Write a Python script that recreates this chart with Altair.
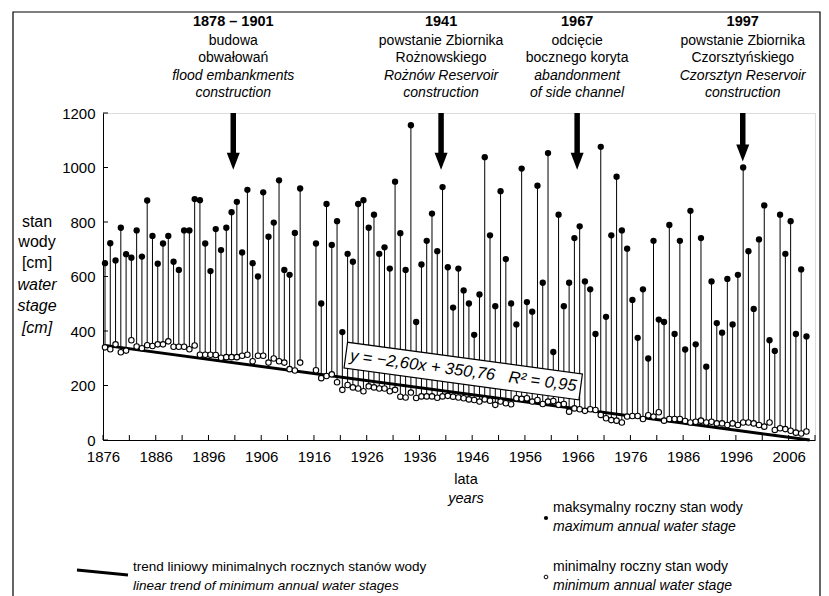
import altair as alt
import pandas as pd

# ---------------- data ----------------
years = list(range(1876, 1914)) + list(range(1916, 2010))

max_stage = [
    649, 722, 659, 779, 682, 669, 769, 673, 879, 749,
    647, 721, 749, 654, 624, 769, 769, 884, 880, 721,
    620, 774, 697, 779, 836, 874, 688, 918, 649, 600,
    909, 746, 798, 953, 624, 606, 760, 923,
    721, 501, 866, 716, 803, 396, 683, 654, 866, 880,
    779, 827, 683, 707, 629, 948, 759, 624, 1155, 433,
    644, 731, 831, 693, 928, 634, 486, 629, 549, 501,
    386, 534, 1038, 751, 491, 913, 664, 501, 424, 996,
    506, 471, 933, 577, 1053, 323, 827, 491, 577, 741,
    784, 582, 553, 389, 1076, 452, 751, 966, 769, 702,
    514, 375, 553, 299, 731, 442, 433, 789, 389, 731,
    332, 841, 351, 741, 269, 582, 429, 394, 591, 424,
    606, 1000, 693, 481, 736, 861, 366, 327, 827, 683,
    803, 389, 626, 380,
]

min_stage = [
    340, 333, 351, 322, 328, 366, 343, 337, 348, 345,
    351, 351, 362, 342, 342, 342, 333, 347, 313, 313,
    313, 312, 302, 304, 304, 304, 309, 313, 289, 309,
    309, 284, 299, 289, 284, 260, 255, 284,
    256, 227, 235, 241, 212, 184, 202, 193, 189, 179,
    197, 193, 189, 189, 179, 184, 159, 156, 174, 154,
    160, 160, 160, 155, 160, 162, 159, 156, 153, 149,
    147, 141, 149, 144, 129, 141, 135, 131, 153, 151,
    153, 141, 147, 132, 141, 143, 129, 132, 104, 116,
    113, 107, 113, 110, 92, 80, 73, 71, 64, 86,
    88, 88, 77, 91, 86, 102, 71, 77, 77, 77,
    70, 64, 67, 71, 64, 67, 61, 61, 55, 61,
    55, 64, 64, 61, 55, 49, 64, 37, 43, 40,
    34, 27, 24, 31,
]

x_label_years = list(range(1876, 2007, 10))
x_tick_years = list(range(1876, 2012, 5))
y_ticks = [0, 200, 400, 600, 800, 1000, 1200]

trend_slope = -2.60
trend_intercept = 350.76
trend_years = [1876, 2010]

equation_text = "y = −2,60x + 350,76\u00a0\u00a0\u00a0R² = 0,95"
equation_pos = (1944.3, 253)

event_x = [1900.7, 1940.1, 1965.9, 1997.3]
event_tip = [992, 992, 992, 1022]
event_lines = [
    ["1878 – 1901", "budowa", "obwałowań", "flood embankments", "construction"],
    ["1941", "powstanie Zbiornika", "Rożnowskiego", "Rożnów Reservoir", "construction"],
    ["1967", "odcięcie", "bocznego koryta", "abandonment", "of side channel"],
    ["1997", "powstanie Zbiornika", "Czorsztyńskiego", "Czorsztyn Reservoir", "construction"],
]

# ---------------- layout ----------------
FONT = "Liberation Sans, Arial, Helvetica, sans-serif"
W, H = 712, 327

df = pd.DataFrame({"year": years, "max": max_stage, "min": min_stage})
trend_df = pd.DataFrame({"year": trend_years})
one = pd.DataFrame({"k": [0]})

x_scale = alt.Scale(domain=[1876, 2011], nice=False, zero=False)
y_scale = alt.Scale(domain=[0, 1200], nice=False)

x_axis = alt.Axis(values=x_label_years, format="d", title=None, tickSize=0,
                  domainColor="black", domainWidth=1, labelFont=FONT,
                  labelFontSize=15, labelColor="black", labelPadding=9,
                  grid=False, labelFlush=False)
y_axis = alt.Axis(values=y_ticks, format="d", title=None, tickSize=0, domainColor="black",
                  domainWidth=1, labelFont=FONT, labelFontSize=15,
                  labelColor="black", labelPadding=8, grid=False)

layers = []

# frame around the figure
layers.append(alt.Chart(one).mark_rect(filled=False, stroke="black", strokeWidth=1.2).encode(
    x=alt.value(-90), x2=alt.value(717), y=alt.value(-101), y2=alt.value(520)))

# stems
layers.append(alt.Chart(df).mark_rule(color="black", strokeWidth=1, xOffset=2).encode(
    x=alt.X("year:Q", scale=x_scale, axis=x_axis),
    y=alt.Y("min:Q", scale=y_scale, axis=y_axis),
    y2="max:Q"))

# trend line
layers.append(alt.Chart(trend_df).transform_calculate(
    trend=f"{trend_slope}*(datum.year-1875)+{trend_intercept}"
).mark_line(color="black", strokeWidth=3).encode(
    x=alt.X("year:Q", scale=x_scale), y=alt.Y("trend:Q", scale=y_scale)))

# minimum (open) and maximum (filled) points
layers.append(alt.Chart(df).mark_point(shape="circle", size=30, filled=True, fill="white",
                                       stroke="black", strokeWidth=1.1, opacity=1, xOffset=2).encode(
    x=alt.X("year:Q", scale=x_scale), y=alt.Y("min:Q", scale=y_scale)))
layers.append(alt.Chart(df).mark_circle(size=40, color="black", opacity=1, xOffset=2).encode(
    x=alt.X("year:Q", scale=x_scale), y=alt.Y("max:Q", scale=y_scale)))

# inward ticks
ytick_df = pd.DataFrame({"v": y_ticks})
xtick_df = pd.DataFrame({"v": x_tick_years})
layers.append(alt.Chart(ytick_df).mark_rule(color="black", strokeWidth=1).encode(
    y=alt.Y("v:Q", scale=y_scale), x=alt.value(0), x2=alt.value(5)))
layers.append(alt.Chart(xtick_df).mark_rule(color="black", strokeWidth=1).encode(
    x=alt.X("v:Q", scale=x_scale), y=alt.value(H), y2=alt.value(H - 5)))

# equation box
box_path = "M-1,-0.11L1,-0.11L1,0.11L-1,0.11Z"
layers.append(alt.Chart(one).mark_point(shape=box_path, size=56169, filled=True, fill="white",
                                        stroke="black", strokeWidth=1.2, opacity=1, angle=7.7).encode(
    x=alt.datum(equation_pos[0], scale=x_scale), y=alt.datum(equation_pos[1], scale=y_scale)))
layers.append(alt.Chart(one).mark_text(font=FONT, fontSize=16.5, fontStyle="italic", angle=7.7,
                                       color="black", baseline="middle", align="center").encode(
    x=alt.datum(equation_pos[0], scale=x_scale), y=alt.datum(equation_pos[1], scale=y_scale),
    text=alt.value(equation_text)))

# arrows
arr_df = pd.DataFrame({"x": event_x, "tip": event_tip})
layers.append(alt.Chart(arr_df).transform_calculate(top="1200", base="datum.tip + 55").mark_rule(
    color="black", strokeWidth=5.5).encode(
    x=alt.X("x:Q", scale=x_scale), y=alt.Y("top:Q", scale=y_scale), y2="base:Q"))
layers.append(alt.Chart(arr_df).mark_point(shape="M-1,-2.6L1,-2.6L0,0Z", size=169, filled=True,
                                           color="black", opacity=1).encode(
    x=alt.X("x:Q", scale=x_scale), y=alt.Y("tip:Q", scale=y_scale)))

# event texts
row_y = [-91, -72, -55, -37, -20]
row_style = [("bold", "normal", 14.5), ("normal", "normal", 14), ("normal", "normal", 14),
             ("normal", "italic", 14), ("normal", "italic", 14)]
ev_rows = []
for ex, lines in zip(event_x, event_lines):
    for r, t in enumerate(lines):
        ev_rows.append({"x": ex, "row": r, "text": t})
ev_df = pd.DataFrame(ev_rows)
for r in range(5):
    w, s, fs = row_style[r]
    layers.append(alt.Chart(ev_df).transform_filter(f"datum.row == {r}").mark_text(
        font=FONT, fontSize=fs, fontWeight=w, fontStyle=s, color="black",
        baseline="middle", align="center").encode(
        x=alt.X("x:Q", scale=x_scale), y=alt.value(row_y[r]), text="text:N"))


def label(txt, px, py, italic=False, align="center", size=14):
    return alt.Chart(one).mark_text(font=FONT, fontSize=size,
                                    fontStyle="italic" if italic else "normal",
                                    color="black", baseline="middle", align=align).encode(
        x=alt.value(px), y=alt.value(py), text=alt.value(txt))


# y axis title
ytitle = ["stan", "wody", "[cm]", "water", "stage", "[cm]"]
ytitle_y = [109, 129, 150, 172, 193, 215]
for i, (t, yy) in enumerate(zip(ytitle, ytitle_y)):
    layers.append(label(t, -66, yy, italic=i >= 3, size=16))

# x axis title
layers.append(label("lata", 363, 367, size=14.5))
layers.append(label("years", 363, 386, italic=True, size=14.5))

# legend
layers.append(alt.Chart(one).mark_circle(size=18, color="black", opacity=1).encode(
    x=alt.value(443), y=alt.value(405)))
layers.append(label("maksymalny roczny stan wody", 450, 395, align="left", size=14))
layers.append(label("maximum annual water stage", 450, 414, italic=True, align="left", size=14))
layers.append(alt.Chart(one).mark_point(shape="circle", size=14, filled=True, fill="white",
                                        stroke="black", strokeWidth=1, opacity=1).encode(
    x=alt.value(443), y=alt.value(464)))
layers.append(label("minimalny roczny stan wody", 450, 454, align="left", size=14))
layers.append(label("minimum annual water stage", 450, 473, italic=True, align="left", size=14))
layers.append(alt.Chart(one).mark_rule(color="black", strokeWidth=2.8).encode(
    x=alt.value(-26), x2=alt.value(25), y=alt.value(457), y2=alt.value(462)))
layers.append(label("trend liniowy minimalnych rocznych stanów wody", 30, 454, align="left", size=13.5))
layers.append(label("linear trend of minimum annual water stages", 30, 473, italic=True, align="left", size=13.5))

chart = alt.layer(*layers).properties(
    width=W, height=H,
    autosize=alt.AutoSizeParams(type="none"),
    padding={"left": 95, "top": 105, "right": 6, "bottom": 156},
).configure_view(stroke=None).configure(background="white")

chart.save("out.html", embed_options={"renderer": "svg", "actions": False})
